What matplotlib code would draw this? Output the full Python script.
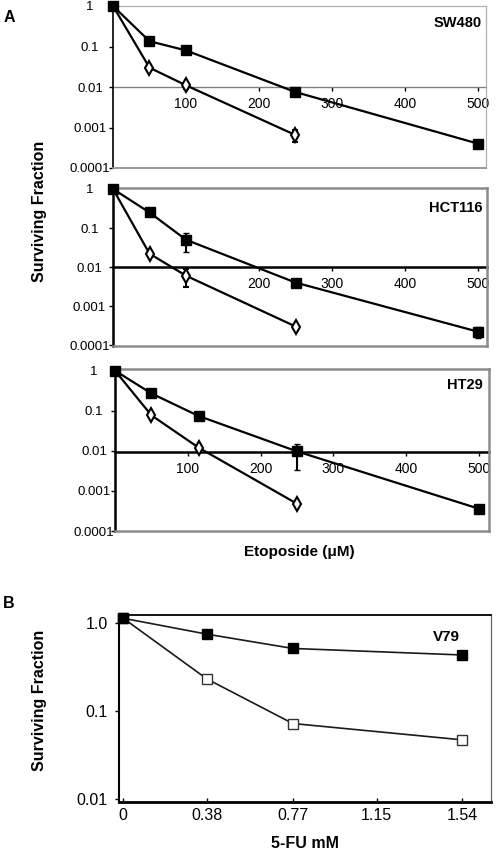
import matplotlib
matplotlib.use('Agg')
import matplotlib.pyplot as plt
import numpy as np

plt.rcParams['font.family'] = ['Liberation Sans', 'DejaVu Sans']

W, H = 496, 849

# panel A: etoposide dose (uM) and surviving fraction
sw_dose_sq = [0, 50, 100, 250, 500]
sw_sq = [1.0, 0.135, 0.08, 0.0075, 0.0004]
sw_sq_err = [0, 0.02, 0.01, 0.001, 0.00005]
sw_dose_dm = [0, 50, 100, 250]
sw_dm = [1.0, 0.03, 0.011, 0.00065]
sw_dm_err = [0, 0.004, 0.002, 0.0002]

hct_dose_sq = [0, 50, 100, 250, 500]
hct_sq = [1.0, 0.25, 0.05, 0.004, 0.00022]
hct_sq_err = [0, 0.02, 0.026, 0.001, 0.00007]
hct_dose_dm = [0, 50, 100, 250]
hct_dm = [1.0, 0.022, 0.006, 0.0003]
hct_dm_err = [0, 0.002, 0.003, 0.00003]

ht_dose_sq = [0, 50, 115, 250, 500]
ht_sq = [1.0, 0.27, 0.074, 0.0097, 0.00036]
ht_sq_err = [[0, 0.02, 0.005, 0.0064, 0.00003], [0, 0.02, 0.005, 0.0047, 0.00003]]
ht_dose_dm = [0, 50, 115, 250]
ht_dm = [1.0, 0.077, 0.012, 0.00048]
ht_dm_err = [0, 0.005, 0.001, 0.00005]

a_ticks = [100, 200, 300, 400, 500]
a_ylabels = ['0.0001', '0.001', '0.01', '0.1', '1']

# panel B: 5-FU dose (mM)
fu_dose = [0, 0.38, 0.77, 1.54]
fu_filled = [1.12, 0.74, 0.51, 0.43]
fu_open = [1.12, 0.23, 0.072, 0.047]
fu_ticks = [0, 0.38, 0.77, 1.15, 1.54]


def rect(l, t, r, b):
    return [l / W, 1 - b / H, (r - l) / W, (b - t) / H]


def ftext(x, y, s, **kw):
    fig.text(x / W, 1 - y / H, s, **kw)


def panel_a(box, ylim, xmax, dsq, sq, sqe, ddm, dm, dme, xlabels, light, ypad):
    ax = fig.add_axes(rect(*box))
    ax.set_yscale('log')
    ax.set_ylim(*ylim)
    ax.set_xlim(0, xmax)
    ax.set_xticks([])
    ax.set_yticks([1e-4, 1e-3, 1e-2, 1e-1, 1])
    ax.set_yticklabels(a_ylabels)
    ax.minorticks_off()
    ax.tick_params(axis='y', length=3, width=1, pad=ypad, labelsize=9.5)
    for lab in ax.get_yticklabels():
        lab.set_horizontalalignment('center')
    ax.spines['left'].set_color('black')
    if light:
        ax.spines['left'].set_linewidth(1.2)
        for s in ['top', 'right']:
            ax.spines[s].set_color('#b0b0b0')
            ax.spines[s].set_linewidth(0.9)
        ax.spines['bottom'].set_color('#909090')
        ax.spines['bottom'].set_linewidth(1.3)
    else:
        ax.spines['left'].set_linewidth(1.8)
        for s in ['top', 'right', 'bottom']:
            ax.spines[s].set_color('#8c8c8c')
            ax.spines[s].set_linewidth(1.8)

    # the first diamond sits under the first square in the original
    ax.errorbar(ddm, dm, yerr=dme, color='black', lw=1.6, marker='d', ms=7.5,
                mfc='white', mec='black', mew=1.5, elinewidth=1.5, capsize=2.5,
                markevery=list(range(1, len(ddm))), clip_on=False, zorder=4)
    ax.errorbar(dsq, sq, yerr=sqe, color='black', lw=1.6, marker='s', ms=7,
                elinewidth=1.5, capsize=2.5, clip_on=False, zorder=5)

    lo, hi = np.log10(ylim[0]), np.log10(ylim[1])
    frac = (np.log10(0.01) - lo) / (hi - lo)
    sec = ax.secondary_xaxis(frac)
    sec.set_alignment('bottom')
    sec.set_xticks(a_ticks)
    sec.set_xticklabels(xlabels)
    sec.tick_params(axis='x', length=3, width=1, pad=4, labelsize=10)
    if light:
        sec.spines['bottom'].set_color('#808080')
        sec.spines['bottom'].set_linewidth(1.0)
    else:
        sec.spines['bottom'].set_color('black')
        sec.spines['bottom'].set_linewidth(1.8)
    return ax


fig = plt.figure(figsize=(W / 100, H / 100), dpi=100)

panel_a((113, 6, 486, 168), (1e-4, 1.0), 511, sw_dose_sq, sw_sq, sw_sq_err,
        sw_dose_dm, sw_dm, sw_dm_err, ['100', '200', '300', '400', '500'], True, 13.5)
panel_a((113, 188, 487, 346), (0.95e-4, 1.06), 512, hct_dose_sq, hct_sq, hct_sq_err,
        hct_dose_dm, hct_dm, hct_dm_err, ['', '200', '300', '400', '500'], False, 14)
panel_a((115, 369, 489, 531), (1.14e-4, 1.1), 514, ht_dose_sq, ht_sq, ht_sq_err,
        ht_dose_dm, ht_dm, ht_dm_err, ['100', '200', '300', '400', '500'], False, 12)

ftext(482, 23, 'SW480', ha='right', va='center', fontsize=10.5, fontweight='bold')
ftext(483, 208, 'HCT116', ha='right', va='center', fontsize=10.5, fontweight='bold')
ftext(483, 385, 'HT29', ha='right', va='center', fontsize=10.5, fontweight='bold')
ftext(9, 18, 'A', ha='center', va='center', fontsize=11.5, fontweight='bold')
ftext(40, 211, 'Surviving Fraction', ha='center', va='center', rotation=90,
      fontsize=11.5, fontweight='bold')
ftext(299, 552, 'Etoposide (\u03bcM)', ha='center', va='center', fontsize=11, fontweight='bold')

# panel B
axb = fig.add_axes(rect(119, 615, 491, 802))
axb.set_yscale('log')
axb.set_ylim(0.0093, 1.22)
axb.set_xlim(-0.0195, 1.67)
axb.plot(fu_dose, fu_filled, color='#1a1a1a', lw=1.2, marker='s', ms=7,
         mfc='black', mec='black', clip_on=False, zorder=4)
axb.plot(fu_dose, fu_open, color='#1a1a1a', lw=1.2, marker='s', ms=7.5,
         mfc='white', mec='#333333', mew=1.0, clip_on=False, zorder=3)
axb.set_yticks([0.01, 0.1, 1.0])
axb.set_yticklabels(['0.01', '0.1', '1.0'])
axb.set_xticks(fu_ticks)
axb.set_xticklabels(['0', '0.38', '0.77', '1.15', '1.54'])
axb.minorticks_off()
axb.tick_params(axis='y', length=3, width=1, pad=5, labelsize=11.5)
axb.tick_params(axis='x', direction='in', length=3, width=1, pad=4, labelsize=11.5)
axb.spines['left'].set_linewidth(1.5)
axb.spines['bottom'].set_linewidth(2.0)
axb.spines['top'].set_linewidth(1.3)
axb.spines['right'].set_color('#666666')
axb.spines['right'].set_linewidth(0.9)

ftext(446, 637, 'V79', ha='center', va='center', fontsize=11, fontweight='bold')
ftext(9, 603, 'B', ha='center', va='center', fontsize=11.5, fontweight='bold')
ftext(40, 700, 'Surviving Fraction', ha='center', va='center', rotation=90,
      fontsize=11.5, fontweight='bold')
ftext(305, 843, '5-FU mM', ha='center', va='center', fontsize=11.5, fontweight='bold')

fig.savefig('out.png', dpi=100)
